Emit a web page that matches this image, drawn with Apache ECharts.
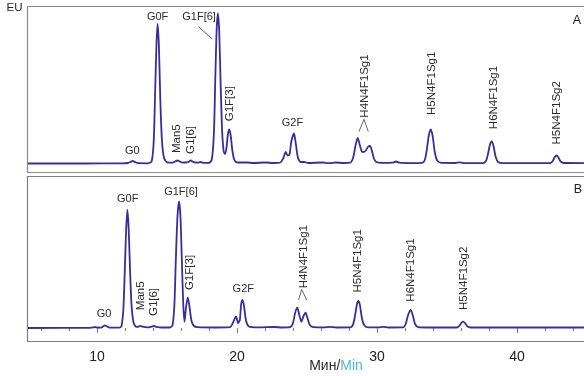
<!DOCTYPE html>
<html><head><meta charset="utf-8">
<script src="https://cdn.jsdelivr.net/npm/echarts@6/dist/echarts.min.js"></script>
<style>html,body{margin:0;padding:0;background:#fff}#c{width:584px;height:376px}</style>
</head><body><div id="c"></div>
<script>
// ---- data (retention time in min, signal in EU) ----
const traceA = [[5.0,0],[9.0,0],[11.8,0.2],[12.2,0.5],[12.4,1.6],[12.55,2.5],[12.7,1.6],[12.9,0.3],[13.6,0.2],[13.9,2],[14.05,22],[14.15,70],[14.25,120],[14.33,139.5],[14.42,118],[14.52,65],[14.63,25],[14.78,6],[15.0,1.2],[15.4,0.8],[15.6,2.2],[15.74,3],[15.88,2.2],[16.1,0.8],[16.5,1.3],[16.7,3],[16.9,1.3],[17.2,0.8],[17.4,1.5],[17.6,0.6],[18.0,0.6],[18.2,4],[18.35,30],[18.45,85],[18.55,135],[18.64,150],[18.73,132],[18.83,80],[18.94,32],[19.05,12],[19.15,9.5],[19.25,16],[19.35,29],[19.45,34],[19.55,28],[19.67,13],[19.8,4],[20.0,1],[20.7,1],[21.2,0.5],[22.0,1],[22.6,0.5],[23.1,1],[23.3,5],[23.48,11.5],[23.62,8],[23.75,9],[23.88,22],[24.07,30],[24.2,20],[24.35,6],[24.55,1.5],[24.8,1.5],[25.1,0.5],[26.1,1],[26.6,0.4],[27.05,1],[27.6,0.5],[28.1,1],[28.3,6],[28.45,17],[28.62,25.5],[28.78,18],[28.92,12],[29.05,11.5],[29.2,13],[29.35,16.5],[29.5,17.5],[29.63,13],[29.78,5],[29.95,1.5],[30.4,0.6],[31.1,0.8],[31.36,2],[31.6,0.8],[32.4,0.4],[33.2,0.6],[33.4,3],[33.55,13],[33.7,28],[33.84,34],[33.98,27],[34.12,12],[34.3,3],[34.6,0.6],[35.6,0.5],[35.88,1.2],[36.2,0.4],[37.6,0.4],[37.8,3],[37.95,11],[38.07,19],[38.2,22],[38.33,17],[38.47,7],[38.65,1.5],[39.0,0.4],[40.5,0.4],[42.4,0.5],[42.55,2.5],[42.7,6.5],[42.83,8],[42.96,6],[43.12,2],[43.35,0.5],[44.8,0.4]];
const traceB = [[5.0,0],[9.5,0.2],[9.75,0.6],[9.86,1],[9.97,0.5],[10.3,0.4],[10.45,1.8],[10.57,2.7],[10.7,1.8],[10.9,0.4],[11.6,0.3],[11.75,2],[11.88,18],[11.98,55],[12.08,98],[12.17,118],[12.26,100],[12.36,58],[12.47,22],[12.62,5],[12.8,1.2],[13.0,1.5],[13.12,2],[13.25,1.3],[13.6,0.6],[13.9,1.4],[14.07,2],[14.22,1.2],[14.6,0.5],[15.2,0.5],[15.4,3],[15.53,24],[15.63,68],[15.75,112],[15.86,126.5],[15.96,112],[16.06,68],[16.16,24],[16.25,6.3],[16.34,18],[16.48,30.5],[16.6,22],[16.75,7],[16.92,2],[17.2,0.8],[18.5,0.5],[19.5,0.8],[19.7,5],[19.93,11.5],[20.08,5],[20.2,8],[20.3,24],[20.4,28],[20.5,22],[20.65,7],[20.85,1.5],[21.5,0.6],[22.7,1],[23.2,0.5],[23.8,0.8],[24.0,5],[24.15,15],[24.31,20.3],[24.45,13],[24.6,6.3],[24.75,12],[24.9,15.3],[25.03,10],[25.2,3],[25.45,0.8],[26.2,0.6],[26.64,1.2],[27.1,0.5],[28.1,0.6],[28.3,4],[28.45,14],[28.57,24],[28.67,27],[28.78,23],[28.92,10],[29.1,2.5],[29.4,0.6],[30.1,0.6],[30.45,1.2],[30.8,0.5],[31.85,0.6],[32.05,4],[32.2,12],[32.4,18],[32.55,13],[32.72,4],[32.95,0.8],[33.5,0.5],[35.7,0.5],[35.9,2.5],[36.05,5.5],[36.16,6.3],[36.28,5],[36.45,1.8],[36.7,0.5],[44.8,0.5]];
// peak labels: [text, time, EU, rotated]
const labelsA = [["G0",12.52,12.8,0],["G0F",14.33,146.8,0],["G1F[6]",17.29,146.8,0],["Man5",15.69,24.8,1],["G1[6]",16.71,23.5,1],["G1F[3]",19.5,59.8,1],["G2F",23.96,40.2,0],["H4N4F1Sg1",29.11,77.5,1],["H5N4F1Sg1",33.91,80.2,1],["H6N4F1Sg1",38.31,66,1],["H5N4F1Sg2",42.84,50.7,1]];
const labelsB = [["G0",10.5,13.7,0],["G0F",12.19,128.7,0],["Man5",13.12,32.2,1],["G1[6]",14.07,26,1],["G1F[6]",16.0,136.3,0],["G1F[3]",16.64,55.5,1],["G2F",20.45,39,0],["H4N4F1Sg1",24.79,71.3,1],["H5N4F1Sg1",28.66,67.2,1],["H6N4F1Sg1",32.41,58,1],["H5N4F1Sg2",36.21,49.7,1]];
// leader marks: G1F[6] line (panel A) and chevrons under H4N4F1Sg1
const leaderA = [[17.24,136.8],[18.24,124.5]];
const chevronA = [[28.71,31.8],[29.07,44.2],[29.38,31.8]];
const chevronB = [[24.4,28],[24.62,38.5],[24.98,28]];
const xTickLabels = [10,20,30,40];
const panelNames = ["A","B"];

const NARROW = "'Liberation Sans Narrow','Arial Narrow','Liberation Sans',Arial,sans-serif";
const SANS = "'Liberation Sans',Arial,sans-serif";
const LINE = '#3b2c9e';

const chart = echarts.init(document.getElementById('c'), null, {renderer:'canvas'});
chart.setOption({
  animation:false,
  grid:[{left:-43,width:700,top:7,height:166,outerBoundsMode:'none',containLabel:false},
        {left:-43,width:700,top:177,height:165,outerBoundsMode:'none',containLabel:false}],
  xAxis:[
    {gridIndex:0,type:'value',min:0,max:50,show:false},
    {gridIndex:1,type:'value',min:0,max:50,interval:10,
     axisLine:{show:false},
     axisTick:{show:true,inside:false,length:5,lineStyle:{color:'#777',width:1}},
     minorTick:{show:true,splitNumber:5,length:3,lineStyle:{color:'#777',width:1}},
     splitLine:{show:false},minorSplitLine:{show:false},
     axisLabel:{margin:8,fontSize:14,fontFamily:NARROW,color:'#222',
       formatter:v=>xTickLabels.indexOf(v)>=0?String(v):''}}
  ],
  yAxis:[
    {gridIndex:0,type:'value',min:-9.5,max:156.5,show:false},
    {gridIndex:1,type:'value',min:-14,max:151,show:false}
  ],
  series:[
    {type:'line',xAxisIndex:0,yAxisIndex:0,data:traceA,showSymbol:false,smooth:0.25,
     lineStyle:{color:LINE,width:1.8},silent:true},
    {type:'line',xAxisIndex:1,yAxisIndex:1,data:traceB,showSymbol:false,smooth:0.25,
     lineStyle:{color:LINE,width:1.8},silent:true}
  ]
});

function px(g,p){return chart.convertToPixel({gridIndex:g},p);}
const gfx = [];
// cover anything left of the panel frames (below the EU text)
gfx.push({type:'rect',z:20,shape:{x:0,y:16,width:26.6,height:340},style:{fill:'#fff'}});
// frames
gfx.push({type:'rect',z:25,shape:{x:27.5,y:6.5,width:600,height:166},style:{fill:'none',stroke:'#8a8a8a',lineWidth:1.2}});
gfx.push({type:'rect',z:25,shape:{x:27.5,y:176.5,width:600,height:165},style:{fill:'none',stroke:'#808080',lineWidth:1.2}});
function addLabels(g,list){
  list.forEach(l=>{
    const p = px(g,[l[1],l[2]]);
    gfx.push({type:'text',z:30,x:p[0],y:p[1],rotation:l[3]?Math.PI/2:0,
      style:{text:l[0],fill:'#2a2a2a',fontSize:l[3]?11.5:11,fontFamily:l[3]?SANS:NARROW,align:'center',verticalAlign:'middle'}});
  });
}
addLabels(0,labelsA); addLabels(1,labelsB);
const la = leaderA.map(p=>px(0,p));
gfx.push({type:'line',z:30,shape:{x1:la[0][0],y1:la[0][1],x2:la[1][0],y2:la[1][1]},style:{stroke:'#555',lineWidth:1}});
gfx.push({type:'polyline',z:30,shape:{points:chevronA.map(p=>px(0,p))},style:{stroke:'#666',lineWidth:1,fill:null}});
gfx.push({type:'polyline',z:30,shape:{points:chevronB.map(p=>px(1,p))},style:{stroke:'#666',lineWidth:1,fill:null}});
// panel names, unit texts
gfx.push({type:'text',z:30,x:577,y:20.5,style:{text:panelNames[0],fill:'#222',fontSize:12.5,fontFamily:NARROW,align:'center',verticalAlign:'middle'}});
gfx.push({type:'text',z:30,x:578,y:190,style:{text:panelNames[1],fill:'#222',fontSize:12.5,fontFamily:NARROW,align:'center',verticalAlign:'middle'}});
gfx.push({type:'text',z:30,x:14.5,y:8,style:{text:'EU',fill:'#222',fontSize:11.5,fontFamily:NARROW,align:'center',verticalAlign:'middle'}});
gfx.push({type:'text',z:30,x:336,y:366.5,style:{text:'{a|Мин/}{b|Min}',align:'center',verticalAlign:'middle',
  rich:{a:{fill:'#2a2a2a',fontSize:14,fontFamily:NARROW},b:{fill:'#4db6e2',fontSize:14,fontFamily:NARROW}}}});
chart.setOption({graphic:gfx});
</script></body></html>
